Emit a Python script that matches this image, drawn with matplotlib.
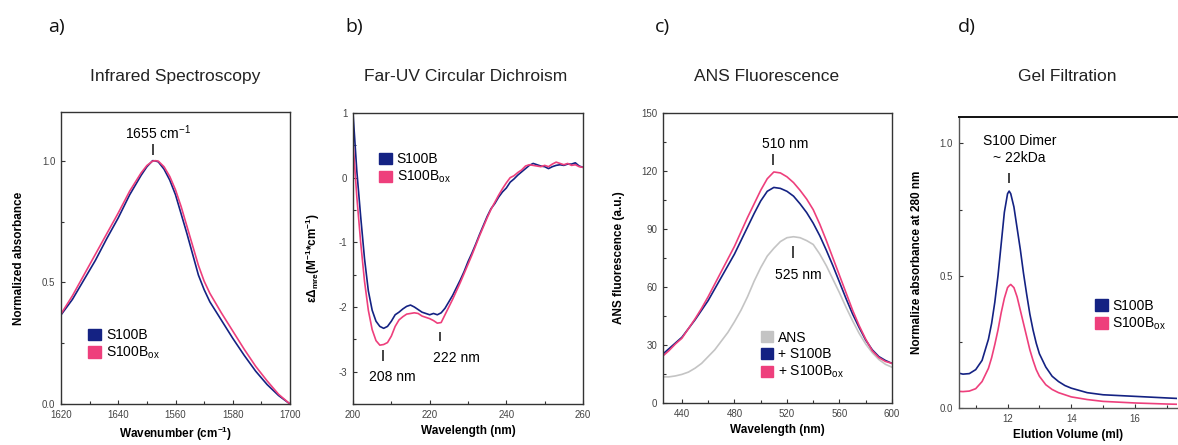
import numpy as np
import matplotlib
matplotlib.use("Agg")
import matplotlib.pyplot as plt
from matplotlib.patches import Patch
from matplotlib.ticker import MultipleLocator

plt.rcParams["font.family"] = ["Liberation Sans", "DejaVu Sans"]
plt.rcParams["mathtext.default"] = "regular"
plt.rcParams["axes.unicode_minus"] = False

NAVY = "#142283"
PINK = "#ee3f7c"
GREY = "#c4c4c4"

# a) infrarrojo
ir_wn = [1620, 1624, 1628, 1632, 1636, 1640, 1644, 1648, 1650, 1652, 1653, 1654, 1656,
         1658, 1660, 1662, 1664, 1666, 1668, 1670, 1672, 1676, 1680, 1684, 1688, 1692,
         1696, 1700]
ir_s100b = [0.366, 0.43, 0.51, 0.59, 0.68, 0.765, 0.86, 0.94, 0.975, 1.0, 0.999, 0.995,
            0.965, 0.92, 0.86, 0.78, 0.70, 0.615, 0.53, 0.47, 0.42, 0.345, 0.27, 0.2,
            0.135, 0.08, 0.035, 0.0]
ir_s100box = [0.37, 0.445, 0.53, 0.615, 0.70, 0.785, 0.875, 0.95, 0.98, 0.998, 1.0,
              0.998, 0.975, 0.935, 0.88, 0.81, 0.73, 0.65, 0.57, 0.505, 0.455, 0.375,
              0.3, 0.225, 0.155, 0.095, 0.04, 0.0]
ir_ticklabels = ["1620", "1640", "1560", "1580", "1700"]

# b) dicroismo circular
cd_wl = list(range(200, 261))
cd_s100b = [1.0, 0.1, -0.6, -1.25, -1.75, -2.05, -2.22, -2.3, -2.33, -2.3, -2.22, -2.12,
            -2.08, -2.03, -1.99, -1.97, -2.0, -2.04, -2.08, -2.1, -2.12, -2.1, -2.12,
            -2.09, -2.02, -1.92, -1.82, -1.7, -1.58, -1.45, -1.3, -1.17, -1.03, -0.88,
            -0.74, -0.6, -0.48, -0.4, -0.3, -0.22, -0.16, -0.07, -0.02, 0.04, 0.09,
            0.14, 0.19, 0.22, 0.2, 0.18, 0.17, 0.14, 0.17, 0.19, 0.2, 0.19, 0.21, 0.21,
            0.23, 0.18, 0.16]
cd_s100box = [0.55, -0.3, -1.0, -1.6, -2.05, -2.35, -2.52, -2.59, -2.58, -2.55, -2.45,
              -2.3, -2.2, -2.15, -2.11, -2.1, -2.09, -2.1, -2.14, -2.16, -2.18, -2.21,
              -2.25, -2.24, -2.12, -2.0, -1.88, -1.75, -1.62, -1.48, -1.34, -1.2, -1.05,
              -0.9, -0.76, -0.62, -0.49, -0.38, -0.27, -0.17, -0.08, 0.0, 0.03, 0.08,
              0.12, 0.18, 0.2, 0.19, 0.18, 0.17, 0.19, 0.17, 0.21, 0.24, 0.22, 0.2,
              0.22, 0.19, 0.2, 0.17, 0.16]

# c) fluorescencia ANS
ans_wl = list(range(425, 601, 5))
ans_free = [13.5, 13.5, 14, 14.8, 16, 18, 20.5, 24, 27.5, 32, 36.5, 42, 48, 55, 63, 70,
            76, 80, 83.5, 85.5, 86, 85.5, 84, 82, 77, 71, 64, 57, 49.5, 42.5, 36, 30.5,
            26, 22.5, 20, 18.5]
ans_s100b = [25, 28, 31, 34, 38.5, 43, 48, 53, 59, 65, 71, 77, 84, 91, 98, 104.5, 109.5,
             111.5, 111, 109.5, 107, 103, 98.5, 93, 86.5, 79, 71, 62.5, 54, 46, 39, 32.5,
             27.5, 24, 22, 20.5]
ans_s100box = [24, 27, 30.5, 33.5, 38.5, 43.5, 49, 55, 61.5, 68, 74.5, 81, 88.5, 96, 103,
               110, 116, 119.5, 119, 117, 114, 110, 105.5, 100, 92.5, 84, 75, 66, 57, 48,
               40, 33, 27, 23.5, 21.5, 20.5]

# d) filtracion en gel
gf_vol = [10.46, 10.6, 10.8, 11.0, 11.2, 11.4, 11.5, 11.6, 11.7, 11.8, 11.9, 12.0, 12.05,
          12.1, 12.2, 12.3, 12.4, 12.5, 12.6, 12.7, 12.8, 12.9, 13.0, 13.2, 13.4, 13.6,
          13.8, 14.0, 14.5, 15.0, 15.5, 16.0, 16.5, 17.0, 17.35]
gf_s100b = [0.132, 0.128, 0.13, 0.145, 0.18, 0.26, 0.32, 0.4, 0.5, 0.62, 0.74, 0.81, 0.82,
            0.81, 0.76, 0.68, 0.6, 0.51, 0.43, 0.355, 0.295, 0.245, 0.205, 0.155, 0.12,
            0.1, 0.085, 0.075, 0.058, 0.05, 0.047, 0.044, 0.041, 0.038, 0.036]
gf_s100box = [0.063, 0.062, 0.064, 0.073, 0.1, 0.15, 0.19, 0.24, 0.295, 0.36, 0.415,
              0.455, 0.462, 0.467, 0.455, 0.42, 0.37, 0.32, 0.27, 0.22, 0.18, 0.145, 0.12,
              0.088, 0.07, 0.058, 0.05, 0.042, 0.032, 0.025, 0.022, 0.019, 0.017, 0.015,
              0.014]

W, H = 1178, 445
fig = plt.figure(figsize=(W / 100, H / 100), dpi=100)


def px_axes(left, top, right, bottom):
    return fig.add_axes([left / W, 1 - bottom / H, (right - left) / W, (bottom - top) / H])


ax_a = px_axes(61, 112, 290, 404)
ax_b = px_axes(353, 113, 583, 404)
ax_c = px_axes(663, 113, 892, 403)
ax_d = px_axes(958.5, 117, 1177, 408)

for ax in [ax_a, ax_b, ax_c, ax_d]:
    ax.tick_params(which="both", direction="in", labelsize=7, labelcolor="#444",
                   color="#333", length=3, width=0.8, pad=4)
    ax.tick_params(which="minor", length=2)
    for s in ax.spines.values():
        s.set_linewidth(1.0)
        s.set_color("#333")

lw = 1.2
sq = dict(handlelength=0.9, handleheight=0.9, handletextpad=0.35, labelspacing=0.2,
          frameon=False, fontsize=10, borderpad=0, borderaxespad=0, loc="upper left")
xlab = dict(fontsize=8.5, fontweight="bold", labelpad=4)
ylab = dict(fontsize=8.5, fontweight="bold", labelpad=12)

# 1. IR
ax_a.plot(ir_wn, ir_s100b, color=NAVY, lw=lw)
ax_a.plot(ir_wn, ir_s100box, color=PINK, lw=lw)
ax_a.set_xlim(1620, 1700)
ax_a.set_ylim(0, 1.2)
ax_a.set_xticks([1620, 1640, 1660, 1680, 1700])
ax_a.set_xticklabels(ir_ticklabels)
ax_a.xaxis.set_minor_locator(MultipleLocator(10))
ax_a.set_yticks([0, 0.5, 1.0])
ax_a.set_yticklabels(["0.0", "0.5", "1.0"])
ax_a.yaxis.set_minor_locator(MultipleLocator(0.25))
ax_a.set_xlabel("Wavenumber (cm$^{-1}$)", **xlab)
ax_a.set_ylabel("Normalized absorbance", **ylab)
ax_a.vlines(1652.3, 1.025, 1.07, color="#222", lw=1.2)
ax_a.text(1654, 1.115, "1655 cm$^{-1}$", ha="center", va="center", fontsize=10)
ax_a.legend(handles=[Patch(color=NAVY, label="S100B"),
                     Patch(color=PINK, label="S100B$_{ox}$")],
            bbox_to_anchor=(0.12, 0.26), **sq)

# 2. CD
ax_b.plot(cd_wl, cd_s100b, color=NAVY, lw=lw)
ax_b.plot(cd_wl, cd_s100box, color=PINK, lw=lw)
ax_b.set_xlim(200, 260)
ax_b.set_ylim(-3.5, 1)
ax_b.set_xticks([200, 220, 240, 260])
ax_b.xaxis.set_minor_locator(MultipleLocator(10))
ax_b.set_yticks([1, 0, -1, -2, -3])
ax_b.yaxis.set_minor_locator(MultipleLocator(0.5))
ax_b.set_xlabel("Wavelength (nm)", **xlab)
ax_b.set_ylabel(r"$\epsilon\Delta_{mre}$(M$^{-1}$*cm$^{-1}$)", **ylab)
ax_b.vlines(207.8, -2.83, -2.67, color="#222", lw=1.2)
ax_b.text(210.2, -3.08, "208 nm", ha="center", va="center", fontsize=10)
ax_b.vlines(222.7, -2.52, -2.38, color="#222", lw=1.2)
ax_b.text(227, -2.79, "222 nm", ha="center", va="center", fontsize=10)
ax_b.legend(handles=[Patch(color=NAVY, label="S100B"),
                     Patch(color=PINK, label="S100B$_{ox}$")],
            bbox_to_anchor=(0.115, 0.865), **sq)

# 3. ANS
ax_c.plot(ans_wl, ans_free, color=GREY, lw=lw)
ax_c.plot(ans_wl, ans_s100b, color=NAVY, lw=lw)
ax_c.plot(ans_wl, ans_s100box, color=PINK, lw=lw)
ax_c.set_xlim(425.6, 600)
ax_c.set_ylim(0, 150)
ax_c.set_xticks([440, 480, 520, 560, 600])
ax_c.xaxis.set_minor_locator(MultipleLocator(20))
ax_c.set_yticks([0, 30, 60, 90, 120, 150])
ax_c.yaxis.set_minor_locator(MultipleLocator(15))
ax_c.set_xlabel("Wavelength (nm)", **xlab)
ax_c.set_ylabel("ANS fluorescence (a.u.)", **ylab)
ax_c.vlines(509.5, 123, 129, color="#222", lw=1.2)
ax_c.text(519, 134, "510 nm", ha="center", va="center", fontsize=10)
ax_c.vlines(524.6, 75, 81, color="#222", lw=1.2)
ax_c.text(529, 66, "525 nm", ha="center", va="center", fontsize=10)
ax_c.legend(handles=[Patch(color=GREY, label="ANS"),
                     Patch(color=NAVY, label="+ S100B"),
                     Patch(color=PINK, label="+ S100B$_{ox}$")],
            bbox_to_anchor=(0.427, 0.25), **sq)

# 4. Gel (el borde derecho queda fuera de la figura)
ax_d.plot(gf_vol, gf_s100b, color=NAVY, lw=lw)
ax_d.plot(gf_vol, gf_s100box, color=PINK, lw=lw)
ax_d.set_xlim(10.46, 17.32)
ax_d.set_ylim(0, 1.1)
ax_d.set_xticks([12, 14, 16])
ax_d.xaxis.set_minor_locator(MultipleLocator(1))
ax_d.set_yticks([0, 0.5, 1.0])
ax_d.set_yticklabels(["0.0", "0.5", "1.0"])
ax_d.yaxis.set_minor_locator(MultipleLocator(0.25))
ax_d.spines["right"].set_visible(False)
ax_d.spines["top"].set_linewidth(1.4)
ax_d.spines["top"].set_color("#111")
ax_d.spines["left"].set_color("#555")
ax_d.spines["bottom"].set_color("#555")
ax_d.set_xlabel("Elution Volume (ml)", **xlab)
ax_d.set_ylabel("Normalize absorbance at 280 nm", **ylab)
ax_d.vlines(12.03, 0.85, 0.89, color="#222", lw=1.2)
ax_d.text(12.37, 1.01, "S100 Dimer", ha="center", va="center", fontsize=10)
ax_d.text(12.37, 0.945, "~ 22kDa", ha="center", va="center", fontsize=10)
ax_d.legend(handles=[Patch(color=NAVY, label="S100B"),
                     Patch(color=PINK, label="S100B$_{ox}$")],
            bbox_to_anchor=(0.625, 0.375), **sq)

# titulos y letras
titles = ["Infrared Spectroscopy", "Far-UV Circular Dichroism", "ANS Fluorescence",
          "Gel Filtration"]
letters = ["a)", "b)", "c)", "d)"]
letter_x = [48, 345, 655, 958]
title_x = [175, 466, 767, 1067]
for t, tx, l, lx in zip(titles, title_x, letters, letter_x):
    fig.text(tx / W, 1 - 77 / H, t, ha="center", va="center", fontsize=12.5, color="#222")
    fig.text(lx / W, 1 - 27 / H, l, ha="left", va="center", fontsize=14,
             family=["Open Sans", "DejaVu Sans"], color="#111")

fig.savefig("out.png", dpi=100)
